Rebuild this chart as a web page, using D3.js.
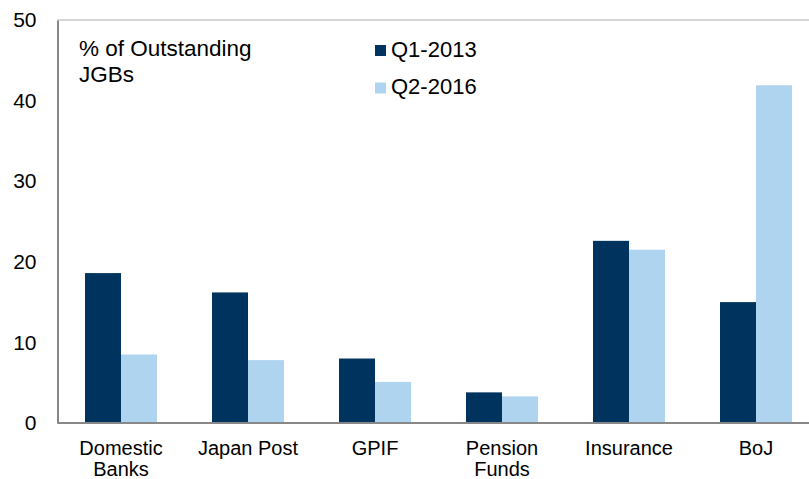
<!DOCTYPE html>
<html>
<head>
<meta charset="utf-8">
<script src="https://cdn.jsdelivr.net/npm/d3@7"></script>
<style>
  html, body { margin: 0; padding: 0; background: #fff; }
  svg { display: block; font-family: "Liberation Sans", Arial, sans-serif; }
</style>
</head>
<body>
<svg id="chart" width="809" height="479"></svg>
<script>
const categories = [["Domestic", "Banks"], ["Japan Post"], ["GPIF"], ["Pension", "Funds"], ["Insurance"], ["BoJ"]];
const seriesNames = ["Q1-2013", "Q2-2016"];
const q1_2013 = [18.6, 16.2, 8.0, 3.8, 22.6, 15.0];
const q2_2016 = [8.5, 7.8, 5.1, 3.3, 21.5, 41.9];
const yTicks = [0, 10, 20, 30, 40, 50];
const colors = ["#00345f", "#aed4ef"];

const svg = d3.select("#chart");
const pLeft = 57.5, pRight = 819.5, pTop = 20, pBottom = 423;

const keys = categories.map(c => c.join(" "));
const x0 = d3.scaleBand().domain(keys).range([pLeft, pRight]).paddingInner(0.433).paddingOuter(0.2165);
const x1 = d3.scaleBand().domain(seriesNames).range([0, x0.bandwidth()]);
const y = d3.scaleLinear().domain([0, 50]).range([pBottom, pTop]);

// top border
svg.append("line").attr("x1", pLeft).attr("x2", 809).attr("y1", pTop).attr("y2", pTop)
  .attr("stroke", "#c8c8c8").attr("stroke-width", 1.5);

const data = keys.map((k, i) => ({ key: k, vals: [q1_2013[i], q2_2016[i]] }));
const g = svg.append("g");
g.selectAll("g.grp").data(data).enter().append("g")
  .attr("transform", d => `translate(${x0(d.key)},0)`)
  .selectAll("rect").data(d => d.vals.map((v, j) => ({ s: seriesNames[j], v, j })))
  .enter().append("rect")
  .attr("x", d => x1(d.s))
  .attr("width", x1.bandwidth())
  .attr("y", d => y(d.v))
  .attr("height", d => pBottom - y(d.v))
  .attr("fill", d => colors[d.j]);

// y axis
const yAxis = svg.append("g").attr("transform", `translate(${pLeft},0)`)
  .call(d3.axisLeft(y).tickValues(yTicks).tickSize(0).tickPadding(21));
yAxis.select(".domain").attr("stroke", "#888").attr("stroke-width", 2);
yAxis.selectAll("text").attr("font-size", 21).attr("fill", "#000")
  .attr("font-family", "'Liberation Sans', Arial, sans-serif");

// x axis
const xAxis = svg.append("g").attr("transform", `translate(0,${pBottom})`)
  .call(d3.axisBottom(x0).tickSize(0).tickFormat(""));
xAxis.select(".domain").attr("d", `M${pLeft},0H809`).attr("stroke", "#888").attr("stroke-width", 2);
xAxis.selectAll(".tick").each(function(d, i) {
  const t = d3.select(this).append("text")
    .attr("text-anchor", "middle").attr("fill", "#000").attr("font-size", 20)
    .attr("font-family", "'Liberation Sans', Arial, sans-serif");
  categories[i].forEach((line, li) => {
    t.append("tspan").attr("x", 0).attr("y", 31.5 + li * 21.5).text(line);
  });
});

// annotation
const ann = svg.append("text").attr("font-size", 22.5).attr("fill", "#000");
ann.append("tspan").attr("x", 79).attr("y", 56).text("% of Outstanding");
ann.append("tspan").attr("x", 79).attr("y", 81.5).text("JGBs");

// legend
const leg = svg.append("g");
seriesNames.forEach((s, i) => {
  const yy = 56.5 + i * 37.5;
  leg.append("rect").attr("x", 375).attr("y", yy - 11.5).attr("width", 11).attr("height", 11).attr("fill", colors[i]);
  leg.append("text").attr("x", 391).attr("y", yy).attr("font-size", 22).attr("fill", "#000").text(s);
});
</script>
</body>
</html>
